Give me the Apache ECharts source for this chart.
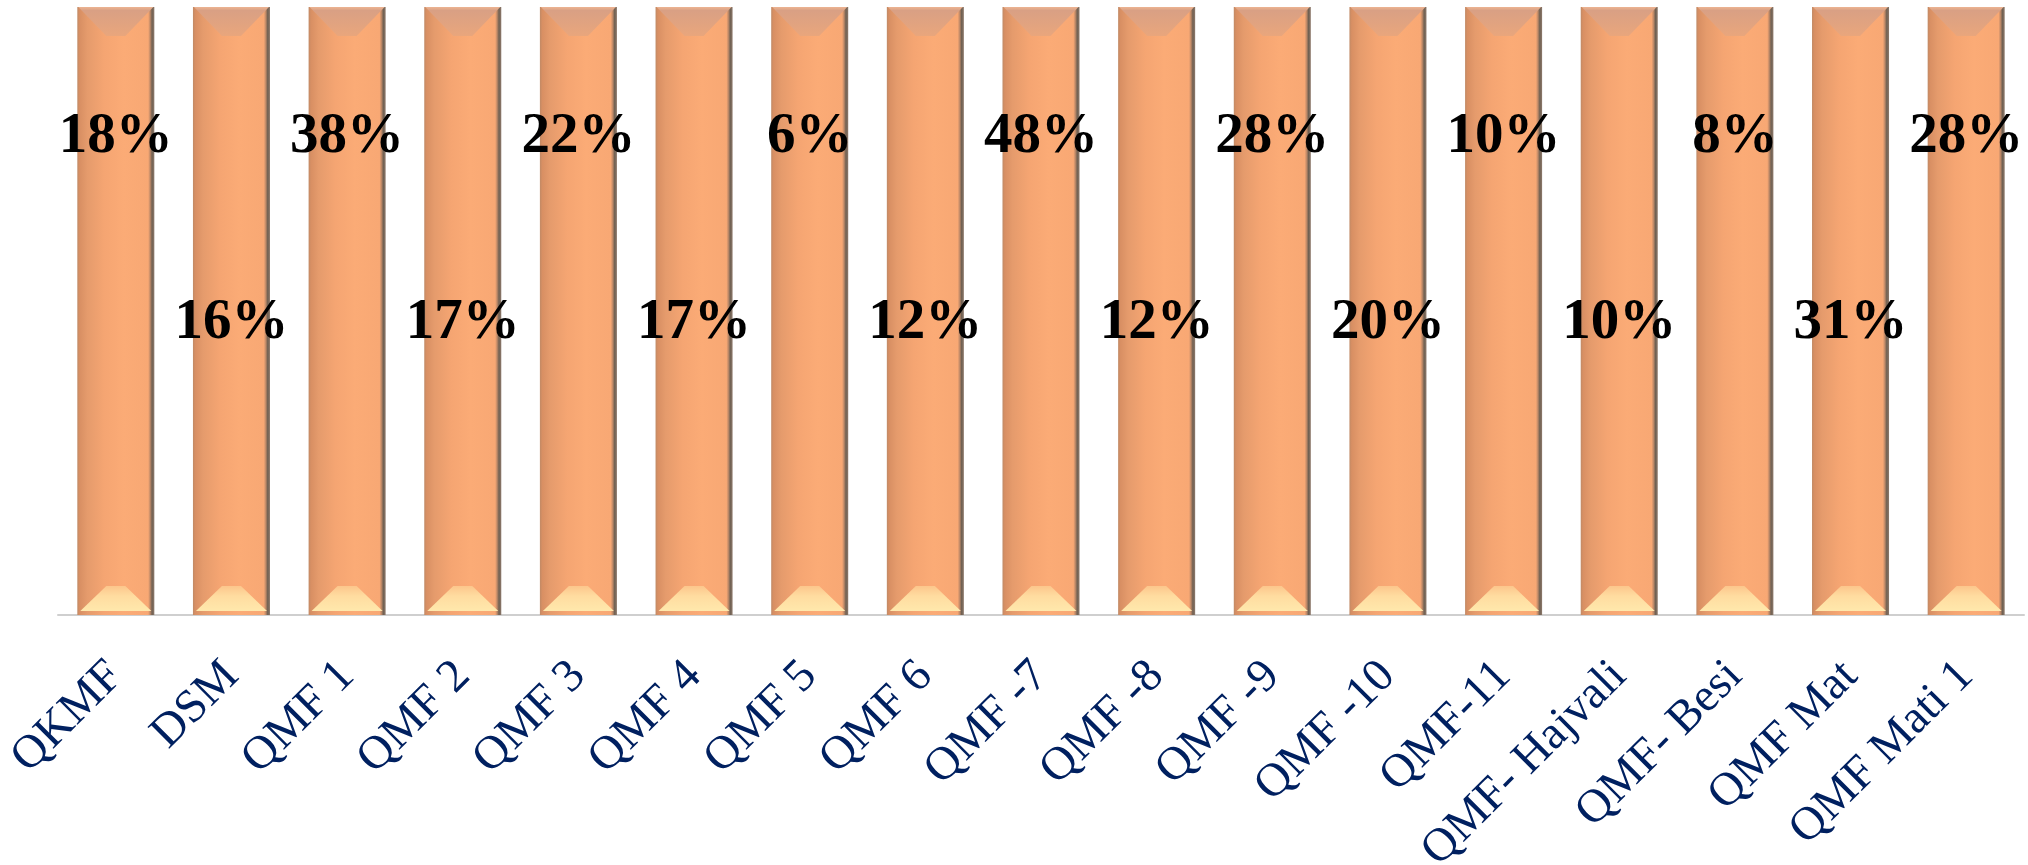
<!DOCTYPE html>
<html>
<head>
<meta charset="utf-8">
<script src="https://cdn.jsdelivr.net/npm/echarts@6/dist/echarts.min.js"></script>
<style>
html, body { margin: 0; padding: 0; background: #fff; }
#chart { width: 2028px; height: 865px; }
</style>
</head>
<body>
<div id="chart"></div>
<script>
var categories = ['QKMF', 'DSM', 'QMF 1', 'QMF 2', 'QMF 3', 'QMF 4', 'QMF 5', 'QMF 6', 'QMF -7', 'QMF -8',
    'QMF -9', 'QMF -10', 'QMF-11', 'QMF- Hajvali', 'QMF- Besi', 'QMF Mat', 'QMF Mati 1'];
// every bar is drawn full height (100%)
var barValues = [100, 100, 100, 100, 100, 100, 100, 100, 100, 100, 100, 100, 100, 100, 100, 100, 100];
var shares = [18, 16, 38, 17, 22, 17, 6, 12, 48, 12, 28, 20, 10, 10, 8, 31, 28];

var chart = echarts.init(document.getElementById('chart'));

function grad(x0, y0, x1, y1, stops) {
    return new echarts.graphic.LinearGradient(x0, y0, x1, y1, stops.map(function (s) {
        return { offset: s[0], color: s[1] };
    }));
}

var bodyFill = grad(0, 0, 1, 0, [
    [0, '#C08A66'], [0.03, '#D88F63'], [0.13, '#E59B6C'], [0.35, '#F5A572'], [0.6, '#FBAB76'],
    [0.92, '#F8A874'], [0.945, '#C08A68'], [0.97, '#6F6052'], [1, '#8E7A6C']
]);
var topFill = grad(0, 0, 0, 1, [[0, '#EDB492'], [0.12, '#D9A084'], [1, '#E9A67C']]);
var bottomFill = grad(0, 0, 0, 1, [[0, '#FCC68C'], [0.4, '#FFDCA0'], [1, '#FFE8AC']]);

var barData = categories.map(function (c, i) {
    return [i, barValues[i], shares[i]];
});

function renderBar(params, api) {
    var i = api.value(0);
    var base = api.coord([i, 0]);
    var top = api.coord([i, api.value(1)]);
    var w = api.size([1, 0])[0] * 0.666;
    var x = base[0] - w / 2, y = top[1], h = base[1] - top[1];
    var d = 29;
    var b = y + h - 4;
    var upper = i % 2 === 0;
    return {
        type: 'group',
        children: [
            { type: 'rect', shape: { x: x, y: y, width: w, height: h }, style: { fill: bodyFill } },
            { type: 'polygon', shape: { points: [[x + 1, y], [x + w - 1, y], [x + w - d, y + d], [x + d, y + d]] }, style: { fill: topFill } },
            { type: 'polygon', shape: { points: [[x + 3, b], [x + w - 3, b], [x + w - d, b - 25], [x + d, b - 25]] }, style: { fill: bottomFill } },
            {
                type: 'text',
                style: {
                    text: api.value(2) + '%',
                    x: base[0],
                    y: y + h * (upper ? 0.215 : 0.52),
                    align: 'center',
                    verticalAlign: 'middle',
                    font: 'bold 57px "Liberation Serif"',
                    fill: '#000'
                }
            }
        ]
    };
}

var option = {
    animation: false,
    grid: { left: 58, right: 4, top: 7, bottom: 250, outerBoundsMode: 'none' },
    xAxis: {
        type: 'category',
        data: categories,
        axisLine: { lineStyle: { color: '#CFCFCF', width: 2 } },
        axisTick: { show: false },
        axisLabel: {
            interval: 0,
            rotate: 45,
            margin: 54,
            color: '#002060',
            fontFamily: 'Liberation Serif',
            fontSize: 47
        }
    },
    yAxis: {
        type: 'value',
        min: 0,
        max: 100,
        show: false
    },
    series: [{
        type: 'custom',
        renderItem: renderBar,
        encode: { x: 0, y: 1 },
        data: barData
    }]
};

chart.setOption(option);
</script>
</body>
</html>
